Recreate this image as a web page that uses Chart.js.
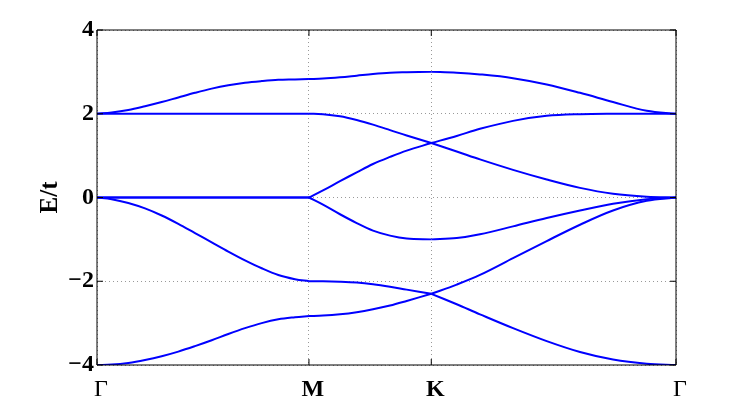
<!DOCTYPE html>
<html>
<head>
<meta charset="utf-8">
<script src="https://cdn.jsdelivr.net/npm/chart.js@4.4.0/dist/chart.umd.min.js"></script>
<style>
  body { margin: 0; background: #fff; }
</style>
</head>
<body>
<canvas id="myChart" width="747" height="411"></canvas>
<script>
// k along the path  Γ - M - K - Γ
let kPath = [0, 0.0400, 0.0853, 0.1308, 0.1763, 0.2215, 0.2670, 0.3125, 0.3577, 0.4032, 0.4487, 0.4939, 0.5394,
             0.5774, 0.6157, 0.6620, 0.7075, 0.7519, 0.7983, 0.8437,
             0.9107, 0.9800, 1.0434, 1.1334, 1.2252, 1.3159, 1.4058, 1.4976, 1.5774];
let kTicks = [0, 0.5774, 0.9107, 1.5774];
let kLabels = ['Γ', 'M', 'K', 'Γ'];
let yTicks = [-4, -2, 0, 2, 4];

let band1 = [2.00, 2.03, 2.09, 2.18, 2.28, 2.39, 2.50, 2.60, 2.68, 2.74, 2.78, 2.81, 2.82,
             2.83, 2.84, 2.87, 2.91, 2.95, 2.98, 2.99,
             3.00, 2.98, 2.94, 2.85, 2.70, 2.50, 2.28, 2.07, 2.00];
let band2 = [2, 2, 2, 2, 2, 2, 2, 2, 2, 2, 2, 2, 2,
             2.00, 1.99, 1.94, 1.85, 1.74, 1.61, 1.48,
             1.30, 1.10, 0.91, 0.66, 0.43, 0.23, 0.09, 0.02, 0];
let band3 = [0, 0, 0, 0, 0, 0, 0, 0, 0, 0, 0, 0, 0,
             0, 0.17, 0.39, 0.60, 0.80, 0.97, 1.12,
             1.30, 1.47, 1.64, 1.83, 1.95, 1.99, 2.00, 2.00, 2.00];
let band4 = [0, -0.04, -0.13, -0.26, -0.43, -0.63, -0.85, -1.07, -1.29, -1.50, -1.69, -1.85, -1.95,
             -2.00, -2.00, -2.01, -2.03, -2.07, -2.13, -2.20,
             -2.30, -2.55, -2.79, -3.12, -3.43, -3.69, -3.87, -3.97, -4.00];
let band5 = [0, 0, 0, 0, 0, 0, 0, 0, 0, 0, 0, 0, 0,
             0, -0.17, -0.40, -0.61, -0.79, -0.91, -0.98,
             -1.00, -0.97, -0.88, -0.69, -0.49, -0.31, -0.15, -0.04, 0];
let band6 = [-4.00, -3.99, -3.95, -3.88, -3.79, -3.68, -3.55, -3.41, -3.26, -3.12, -3.00, -2.91, -2.86,
             -2.83, -2.82, -2.79, -2.74, -2.67, -2.58, -2.47,
             -2.30, -2.08, -1.85, -1.45, -1.04, -0.65, -0.31, -0.08, 0];

let bands = [band1, band2, band3, band4, band5, band6];
let cuts = [0, 13, 20, 28];   // Γ, M, K, Γ indices

let datasets = [];
bands.forEach(function (b) {
    for (let s = 0; s < 3; s++) {
        let pts = [];
        for (let i = cuts[s]; i <= cuts[s + 1]; i++) {
            pts.push({ x: kPath[i], y: b[i] });
        }
        datasets.push({
            data: pts,
            borderColor: '#0000ff',
            borderWidth: 2,
            pointRadius: 0,
            fill: false,
            tension: 0.35
        });
    }
});

let serif = "'Liberation Serif', 'Times New Roman', serif";

let framePlugin = {
    id: 'frame',
    afterDraw: function (chart) {
        let c = chart.ctx;
        let a = chart.chartArea;
        let xs = chart.scales.x;
        let ys = chart.scales.y;
        c.save();
        c.strokeStyle = '#000';
        c.lineWidth = 1;
        c.beginPath();
        c.rect(a.left, a.top, a.right - a.left, a.bottom - a.top);
        kTicks.forEach(function (k) {
            let px = xs.getPixelForValue(k);
            c.moveTo(px, a.bottom); c.lineTo(px, a.bottom - 6);
            c.moveTo(px, a.top); c.lineTo(px, a.top + 6);
        });
        yTicks.forEach(function (v) {
            let py = ys.getPixelForValue(v);
            c.moveTo(a.left, py); c.lineTo(a.left + 6, py);
            c.moveTo(a.right, py); c.lineTo(a.right - 6, py);
        });
        c.stroke();
        c.restore();
    }
};

let ctx = document.getElementById('myChart').getContext('2d');
var myChart = new Chart(ctx, {
    type: 'line',
    data: { datasets: datasets },
    plugins: [framePlugin],
    options: {
        responsive: false,
        animation: false,
        events: [],
        layout: { padding: { top: 30, right: 71, bottom: 0, left: 0 } },
        plugins: { legend: { display: false }, tooltip: { enabled: false } },
        scales: {
            x: {
                type: 'linear',
                min: 0,
                max: 1.5774,
                afterBuildTicks: function (scale) {
                    scale.ticks = kTicks.map(function (v) { return { value: v }; });
                },
                afterFit: function (scale) { scale.height = 46; },
                grid: { color: '#999', lineWidth: 1, drawTicks: false },
                border: { display: false, dash: [1, 3] },
                ticks: {
                    autoSkip: false,
                    maxRotation: 0,
                    padding: 10,
                    labelOffset: 4,
                    color: '#000',
                    callback: function (v, i) { return kLabels[i]; },
                    font: function (c) {
                        let bold = c.index === 1 || c.index === 2;
                        return { family: serif, size: 24, weight: bold ? 'bold' : 'normal' };
                    }
                }
            },
            y: {
                min: -4,
                max: 4,
                afterBuildTicks: function (scale) {
                    scale.ticks = yTicks.map(function (v) { return { value: v }; });
                },
                afterFit: function (scale) { scale.width = 97; },
                grid: { color: '#999', lineWidth: 1, drawTicks: false },
                border: { display: false, dash: [1, 3] },
                ticks: {
                    padding: 3,
                    color: '#000',
                    font: { family: serif, size: 24, weight: 'bold' },
                    callback: function (v) { return v < 0 ? '\u2212' + Math.abs(v) : String(v); }
                },
                title: {
                    display: true,
                    text: 'E/t',
                    color: '#000',
                    font: { family: serif, size: 25, weight: 'bold' },
                    padding: { top: 36, bottom: 0 }
                }
            }
        }
    }
});
</script>
</body>
</html>
